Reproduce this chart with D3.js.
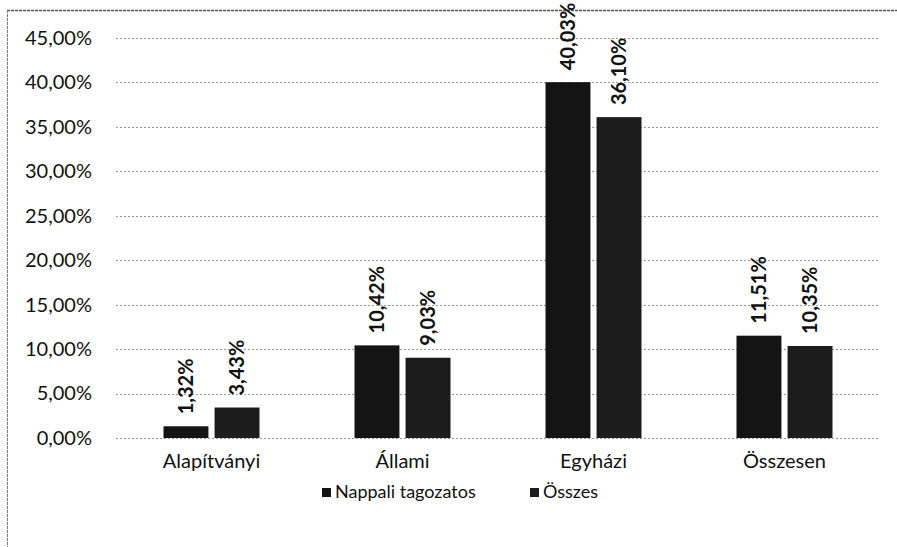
<!DOCTYPE html>
<html>
<head>
<meta charset="utf-8">
<script src="https://cdn.jsdelivr.net/npm/d3@7"></script>
<style>
  body { margin: 0; background: #fff; }
  svg { font-family: Lato, "Open Sans", sans-serif; }
</style>
</head>
<body>
<script>
const categories = ["Alapítványi", "Állami", "Egyházi", "Összesen"];
const seriesNames = ["Nappali tagozatos", "Összes"];
const nappali = [1.32, 10.42, 40.03, 11.51];
const osszes = [3.43, 9.03, 36.10, 10.35];
const yTicks = [0, 5, 10, 15, 20, 25, 30, 35, 40, 45];
const colors = ["#141414", "#1c1c1c"];

const svgWidth = 897;
const svgHeight = 547;
const margin = { left: 116, top: 38, right: 17, bottom: 109 };
const chartWidth = svgWidth - margin.left - margin.right;
const chartHeight = svgHeight - margin.top - margin.bottom;

const fmt = v => v.toFixed(2).replace(".", ",") + "%";

const svg = d3.select("body").append("svg")
    .attr("width", svgWidth)
    .attr("height", svgHeight);

// outer frame (only top and left edges show)
svg.append("line").attr("x1", 7).attr("x2", svgWidth).attr("y1", 10.5).attr("y2", 10.5)
    .attr("stroke", "#555").attr("stroke-width", 1.5).attr("stroke-dasharray", "3,1");
svg.append("line").attr("x1", 7.5).attr("x2", 7.5).attr("y1", 10).attr("y2", svgHeight)
    .attr("stroke", "#777").attr("stroke-width", 1).attr("stroke-dasharray", "3,1");

const chart = svg.append("g").attr("transform", `translate(${margin.left},${margin.top})`);

const x0 = d3.scaleBand().domain(categories).range([0, chartWidth]);
const x1 = d3.scaleBand().domain(seriesNames).range([0, 96]).paddingInner(0.12);
const y = d3.scaleLinear().domain([0, 45]).range([chartHeight, 0]);

// gridlines
chart.append("g")
    .selectAll("line")
    .data(yTicks)
    .join("line")
    .attr("x1", 0)
    .attr("x2", chartWidth)
    .attr("y1", d => Math.round(y(d)) + 0.5)
    .attr("y2", d => Math.round(y(d)) + 0.5)
    .attr("stroke", "#9a9a9a")
    .attr("stroke-dasharray", "2,2");

// y axis labels
const leftAxis = d3.axisLeft(y).tickValues(yTicks).tickFormat(fmt).tickSize(0).tickPadding(24);
chart.append("g")
    .call(leftAxis)
    .call(g => g.select(".domain").remove())
    .selectAll("text")
    .attr("font-size", 20)
    .attr("font-family", "Lato, sans-serif")
    .attr("fill", "#111");

// x axis labels
const bottomAxis = d3.axisBottom(x0).tickSize(0).tickPadding(16);
chart.append("g")
    .attr("transform", `translate(0,${chartHeight})`)
    .call(bottomAxis)
    .call(g => g.select(".domain").remove())
    .selectAll("text")
    .attr("font-size", 20)
    .attr("font-family", "Lato, sans-serif")
    .attr("fill", "#111");

const rows = categories.map((c, i) => ({ cat: c, values: [nappali[i], osszes[i]] }));

const groups = chart.selectAll("g.cat")
    .data(rows)
    .join("g")
    .attr("class", "cat")
    .attr("transform", d => `translate(${x0(d.cat) + x0.bandwidth() / 2 - 48},0)`);

groups.selectAll("rect")
    .data(d => d.values.map((v, j) => ({ name: seriesNames[j], v, j })))
    .join("rect")
    .attr("x", d => x1(d.name))
    .attr("y", d => y(d.v))
    .attr("width", x1.bandwidth())
    .attr("height", d => chartHeight - y(d.v))
    .attr("fill", d => colors[d.j]);

groups.selectAll("text.val")
    .data(d => d.values.map((v, j) => ({ name: seriesNames[j], v, j })))
    .join("text")
    .attr("class", "val")
    .attr("transform", d => `translate(${x1(d.name) + x1.bandwidth() / 2},${y(d.v) - 12}) rotate(-90)`)
    .attr("dy", "0.36em")
    .attr("font-size", 20)
    .attr("font-weight", "bold")
    .attr("fill", "#111")
    .text(d => fmt(d.v));

// legend
const legend = svg.append("g").attr("transform", "translate(322,492)");
const legendX = [0, 208];
seriesNames.forEach((s, i) => {
    const g = legend.append("g").attr("transform", `translate(${legendX[i]},0)`);
    g.append("rect").attr("x", 0).attr("y", -4).attr("width", 9).attr("height", 9).attr("fill", colors[i]);
    g.append("text").attr("x", 13).attr("y", 0).attr("dy", "0.35em")
        .attr("font-size", 18).attr("fill", "#111").text(s);
});
</script>
</body>
</html>
